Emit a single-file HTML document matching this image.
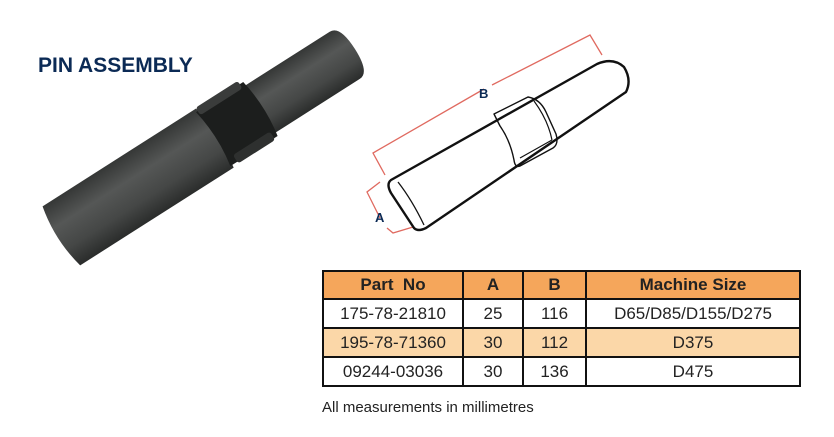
<!DOCTYPE html>
<html><head><meta charset="utf-8"><style>
body{margin:0;background:#fff;width:834px;height:437px;overflow:hidden;position:relative;font-family:"Liberation Sans",sans-serif}
.t{position:absolute;border-collapse:collapse;left:322px;top:270px}
.t td{border:2px solid #111;text-align:center;font-size:17px;color:#222;padding:0;height:27px}
.t tr.h td{background:#f5a65b;font-weight:bold;height:26px}
.t tr.o td{background:#fbd7a8}
</style></head><body>
<div style="position:absolute;left:38px;top:54px;font-size:21px;font-weight:bold;color:#0b2a55">PIN ASSEMBLY</div>
<svg width="834" height="437" style="position:absolute;left:0;top:0">
<defs><linearGradient id="g" x1="0" y1="0" x2="0" y2="1"><stop offset="0" stop-color="#353736"/><stop offset="0.35" stop-color="#555756"/><stop offset="0.7" stop-color="#454746"/><stop offset="1" stop-color="#2a2c2b"/></linearGradient></defs>
<g transform="translate(58,238) rotate(-32.5)">
<path d="M236,-28 L340,-28 Q352,-28 352,0 Q352,28 340,28 L236,28 Z" fill="url(#g)"/>
<path d="M4,-35 L186,-35 Q192,0 186,35 L4,35 Q-4,0 4,-35 Z" fill="url(#g)"/>
<path d="M184,-32 L240,-32 Q246,0 240,32 L184,32 Q190,0 184,-32 Z" fill="#1c1e1d"/>
<rect x="186" y="-36" width="50" height="9" rx="3" fill="#3a3c3b"/>
<rect x="192" y="24" width="44" height="10" rx="3" fill="#2e302f"/>
</g>
<g fill="none" stroke="#e06a60" stroke-width="1.3">
<polyline points="385,175 373,153 484,89"/><polyline points="492,85 590,35 602,55"/>
<polyline points="380,182 367,192 380,218"/><polyline points="387,228 393,233 413,227"/>
</g>
<g fill="#fff" stroke="#111" stroke-width="2.4" stroke-linejoin="round">
<path d="M391,180 L597,64 Q613,57 624,67 Q632,80 626,92 L426,228 Q418,232 414,228 L391,193 Q386,184 391,180 Z"/>
<path d="M398,182 Q412,200 424,225" fill="none" stroke-width="1.3"/>
<path d="M494,114 L528,97 Q540,99 546,112 L556,134 Q559,144 553,148 L520,166 Q515,168 514,160 Q510,140 500,126 Z" fill="none" stroke-width="1.4"/>
<path d="M500,118 L532,101 M520,158 L552,140 M534,101 Q548,120 552,140" fill="none" stroke-width="1.2"/>
</g>
<text x="479" y="98" font-size="13" font-weight="bold" fill="#0b2a55" font-family="Liberation Sans">B</text>
<text x="375" y="222" font-size="13" font-weight="bold" fill="#0b2a55" font-family="Liberation Sans">A</text>
</svg>
<table class="t">
<tr class="h"><td style="width:138px">Part&nbsp; No</td><td style="width:58px">A</td><td style="width:61px">B</td><td style="width:212px">Machine Size</td></tr>
<tr><td>175-78-21810</td><td>25</td><td>116</td><td>D65/D85/D155/D275</td></tr>
<tr class="o"><td>195-78-71360</td><td>30</td><td>112</td><td>D375</td></tr>
<tr><td>09244-03036</td><td>30</td><td>136</td><td>D475</td></tr>
</table>
<div style="position:absolute;left:322px;top:399px;font-size:15px;color:#222">All measurements in millimetres</div>
</body></html>
